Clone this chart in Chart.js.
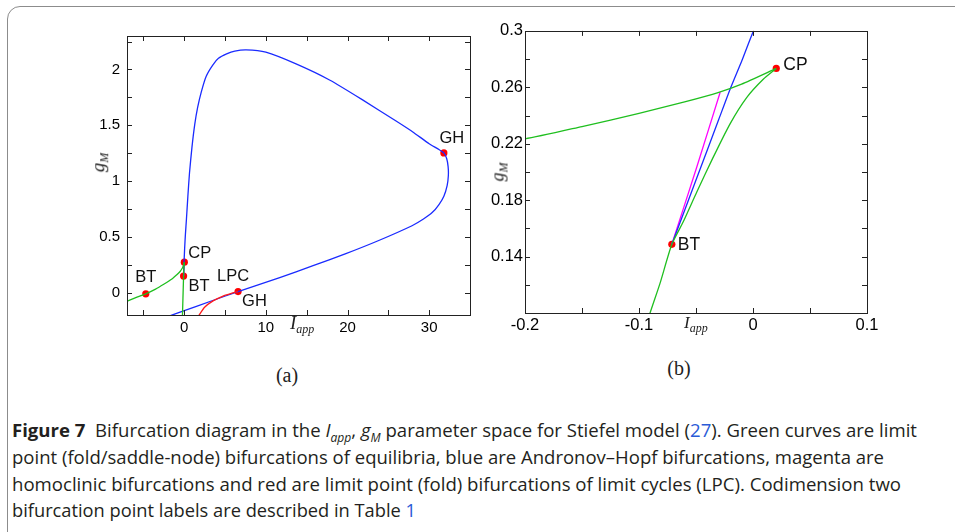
<!DOCTYPE html>
<html>
<head>
<meta charset="utf-8">
<script src="https://cdn.jsdelivr.net/npm/chart.js@4.4.1/dist/chart.umd.min.js"></script>
<style>
  body { margin:0; width:955px; height:532px; overflow:hidden; background:#fff; position:relative; font-family:"Liberation Sans", Arial, sans-serif; }
  #frame { position:absolute; left:7px; top:6px; width:1000px; height:545px; border:1.5px solid #8c8c8c; border-radius:13px; }
  .wrap { position:absolute; }
  .axt { position:absolute; font-family:"Liberation Serif","DejaVu Serif",serif; font-style:italic; font-size:19px; color:#222; white-space:nowrap; }
  .axt sub { font-size:12px; vertical-align:-4px; }
  .sub { position:absolute; font-family:"Liberation Serif","DejaVu Serif",serif; font-size:20px; color:#222; transform:translate(-50%,-50%); }
  .cap { position:absolute; left:12px; font-family:"Open Sans","Noto Sans",sans-serif; font-size:18.5px; color:#231f20; white-space:nowrap; transform-origin:0 50%; }
  .cap b { font-weight:700; }
  .cap a { color:#2a5bd7; text-decoration:none; }
  .cap i sub { font-size:12px; }
</style>
</head>
<body>
<div id="frame"></div>

<div class="wrap" style="left:70px;top:20px;width:420px;height:330px"><canvas id="chartA" width="420" height="330"></canvas></div>
<div class="wrap" style="left:470px;top:19px;width:420px;height:330px"><canvas id="chartB" width="420" height="330"></canvas></div>

<div class="axt" style="left:290px;top:312px">I<sub>app</sub></div>
<div class="axt" style="left:684px;top:313px;font-size:17px">I<sub>app</sub></div>
<div class="axt" style="left:90px;top:150px;transform:rotate(-90deg)">g<sub>M</sub></div>
<div class="axt" style="left:490px;top:160px;transform:rotate(-90deg);font-size:18px">g<sub>M</sub></div>

<div class="sub" style="left:287px;top:375px">(a)</div>
<div class="sub" style="left:679px;top:368px">(b)</div>

<div class="cap" data-w="905" style="top:417px"><b>Figure 7</b>&nbsp; Bifurcation diagram in the <i>I<sub>app</sub></i>, <i>g<sub>M</sub></i> parameter space for Stiefel model (<a>27</a>). Green curves are limit</div>
<div class="cap" data-w="872" style="top:444px">point (fold/saddle-node) bifurcations of equilibria, blue are Andronov–Hopf bifurcations, magenta are</div>
<div class="cap" data-w="889" style="top:471px">homoclinic bifurcations and red are limit point (fold) bifurcations of limit cycles (LPC). Codimension two</div>
<div class="cap" data-w="404" style="top:497px">bifurcation point labels are described in Table <a>1</a></div>

<script>
// fold (limit point of equilibria) curve, I_app / g_M, two branches meeting at the cusp CP
const foldUpI = [-7.2, -6, -4.7, -3.5, -2.5, -1.5, -0.9, -0.5, -0.2, -0.15, -0.1, -0.06, -0.03, -0.01, 0.0204];
const foldUpG = [-0.082, -0.047, -0.01, 0.032, 0.075, 0.122, 0.161, 0.19, 0.2235, 0.2322, 0.2415, 0.2497, 0.2565, 0.2623, 0.2734];
const foldLoI = [0.0204, 0.0092, -0.0054, -0.02, -0.0354, -0.0494, -0.0613, -0.0712, -0.0815, -0.0903, -0.1099, -0.149, -0.188, -0.215];
const foldLoG = [0.2734, 0.2659, 0.2529, 0.2343, 0.2096, 0.1856, 0.1645, 0.1487, 0.1212, 0.1, 0.05, -0.05, -0.15, -0.22];

// Andronov-Hopf curve
const hopfI = [-0.0712, -0.05, -0.03, -0.02, -0.0098, 0.0005, 0.06, 0.15, 0.28, 0.45, 0.65, 0.95, 1.3, 1.65, 2.1, 2.7, 3.5, 4.2, 5.2,
               6.2, 7.6, 10.0, 13.7, 17.8, 21.8, 25.9, 28, 30, 31.2, 31.8, 32.15, 32.32, 32.35, 32.2, 31.8, 31.2, 30.4, 29.3, 27.9,
               23.9, 19.8, 15.7, 11.7, 6.6, 3.5, -0.5, -1.7];
const hopfG = [0.1487, 0.1943, 0.2373, 0.2588, 0.2788, 0.3, 0.4, 0.52, 0.66, 0.86, 1.07, 1.3, 1.51, 1.66, 1.80, 1.94, 2.04, 2.10, 2.14,
               2.165, 2.176, 2.155, 2.05, 1.906, 1.73, 1.54, 1.44, 1.335, 1.283, 1.252, 1.2, 1.13, 1.05, 0.96, 0.865, 0.79, 0.72, 0.66, 0.60,
               0.47, 0.35, 0.24, 0.135, 0.01, -0.07, -0.175, -0.206];

// homoclinic curve
const homI = [-0.0712, -0.0493, -0.0288];
const homG = [0.1487, 0.2035, 0.2565];

// LPC curve
const lpcI = [6.6, 5.6, 4.76, 3.54, 2.5, 1.75];
const lpcG = [0.01, -0.01, -0.03, -0.073, -0.13, -0.21];

// codimension two points
const ptName = ['BT', 'CP', 'BT', 'GH', 'GH'];
const ptI = [-4.7, 0.0204, -0.0712, 6.6, 31.8];
const ptG = [-0.01, 0.2734, 0.1487, 0.01, 1.252];

// ticks
const aXTicks = [-5, 0, 5, 10, 15, 20, 25, 30];
const aXLabels = [0, 10, 20, 30];
const aYTicks = [0, 0.25, 0.5, 0.75, 1, 1.25, 1.5, 1.75, 2, 2.25];
const aYLabels = [0, 0.5, 1, 1.5, 2];
const bXTicks = [-0.2, -0.15, -0.1, -0.05, 0, 0.05, 0.1];
const bXLabels = [-0.2, -0.1, 0, 0.1];
const bYTicks = [0.1, 0.12, 0.14, 0.16, 0.18, 0.2, 0.22, 0.24, 0.26, 0.28, 0.3];
const bYLabels = [0.14, 0.18, 0.22, 0.26, 0.3];

const zip = (xs, ys) => xs.map((x, i) => ({x: x, y: ys[i]}));
const has = (arr, v) => arr.some(a => Math.abs(a - v) < 1e-9);

// frame + inward ticks on all four sides
const boxPlugin = {
    id: 'box',
    afterDatasetsDraw(chart) {
        const {ctx, chartArea: a, scales} = chart;
        ctx.save();
        ctx.strokeStyle = '#222';
        ctx.lineWidth = 1;
        ctx.beginPath();
        scales.x.ticks.forEach(t => {
            const px = Math.round(scales.x.getPixelForValue(t.value)) + 0.5;
            if (px <= a.left + 1 || px >= a.right - 1) return;
            ctx.moveTo(px, a.bottom); ctx.lineTo(px, a.bottom - 5);
            ctx.moveTo(px, a.top); ctx.lineTo(px, a.top + 5);
        });
        scales.y.ticks.forEach(t => {
            const py = Math.round(scales.y.getPixelForValue(t.value)) + 0.5;
            if (py <= a.top + 1 || py >= a.bottom - 1) return;
            ctx.moveTo(a.left, py); ctx.lineTo(a.left + 5, py);
            ctx.moveTo(a.right, py); ctx.lineTo(a.right - 5, py);
        });
        ctx.stroke();
        ctx.strokeRect(Math.round(a.left) + 0.5, Math.round(a.top) + 0.5, Math.round(a.right - a.left), Math.round(a.bottom - a.top));
        ctx.restore();
    }
};

// point labels (BT, CP, GH, LPC)
const labelPlugin = {
    id: 'ptlabels',
    afterDatasetsDraw(chart, args, opts) {
        const {ctx, chartArea: a, scales} = chart;
        ctx.save();
        ctx.fillStyle = '#111';
        ctx.font = opts.size + 'px "Liberation Sans", Arial, sans-serif';
        ctx.textBaseline = 'middle';
        opts.items.forEach(it => {
            const px = scales.x.getPixelForValue(ptI[it.p]);
            const py = scales.y.getPixelForValue(ptG[it.p]);
            if (px < a.left || px > a.right || py < a.top || py > a.bottom) return;
            ctx.textAlign = it.align || 'left';
            ctx.fillText(it.text || ptName[it.p], px + it.dx, py + it.dy);
        });
        ctx.restore();
    }
};

function makeChart(id, xr, yr, xt, xl, yt, yl, fontSize, fit, labels) {
    const lineSet = (data, color) => ({
        data: data, showLine: true, borderColor: color, borderWidth: 1.3,
        pointRadius: 0, tension: 0.2, fill: false
    });
    return new Chart(document.getElementById(id), {
        type: 'scatter',
        data: {
            datasets: [
                lineSet(zip(lpcI, lpcG), '#ff1a1a'),
                lineSet(zip(foldUpI, foldUpG), '#1fbf1f'),
                lineSet(zip(foldLoI, foldLoG), '#1fbf1f'),
                lineSet(zip(hopfI, hopfG), '#1a2bff'),
                lineSet(zip(homI, homG), '#ff00ff'),
                {data: zip(ptI, ptG), pointRadius: 3.6, pointBackgroundColor: '#ff0000', pointBorderWidth: 0, showLine: false}
            ]
        },
        options: {
            responsive: false,
            animation: false,
            events: [],
            layout: {padding: fit.pad},
            plugins: {legend: {display: false}, tooltip: {enabled: false}, ptlabels: labels},
            scales: {
                x: {
                    type: 'linear', min: xr[0], max: xr[1],
                    afterBuildTicks: s => { s.ticks = xt.map(v => ({value: v})); },
                    afterFit: s => { s.height = fit.xh; },
                    ticks: {callback: v => has(xl, v) ? String(+v.toFixed(3)) : '', color: '#000', padding: fit.xpad,
                            font: {size: fontSize, family: '"Liberation Sans", Arial, sans-serif'}, maxRotation: 0, autoSkip: false},
                    grid: {display: false, drawTicks: false},
                    border: {display: false}
                },
                y: {
                    type: 'linear', min: yr[0], max: yr[1],
                    afterBuildTicks: s => { s.ticks = yt.map(v => ({value: v})); },
                    afterFit: s => { s.width = fit.yw; },
                    ticks: {callback: v => has(yl, v) ? String(+v.toFixed(3)) : '', color: '#000', padding: fit.ypad,
                            font: {size: fontSize, family: '"Liberation Sans", Arial, sans-serif'}, autoSkip: false},
                    grid: {display: false, drawTicks: false},
                    border: {display: false}
                }
            }
        },
        plugins: [boxPlugin, labelPlugin]
    });
}

makeChart('chartA', [-7, 35], [-0.2, 2.3], aXTicks, aXLabels, aYTicks, aYLabels, 15,
    {pad: {top: 10, right: 20, left: 0, bottom: 0}, xh: 35, yw: 57, xpad: 4, ypad: 7},
    {size: 16.5, items: [
        {p: 0, dx: 0, dy: -16, align: 'center'},
        {p: 1, dx: 4, dy: -9},
        {p: 2, dx: 5, dy: 10},
        {p: 3, text: 'LPC', dx: -5, dy: -15, align: 'center'},
        {p: 3, dx: 4, dy: 10},
        {p: 4, dx: 8, dy: -15, align: 'center'}
    ]});

makeChart('chartB', [-0.2, 0.1], [0.1, 0.3], bXTicks, bXLabels, bYTicks, bYLabels, 16.5,
    {pad: {top: 10, right: 23, left: 0, bottom: 0}, xh: 36, yw: 55, xpad: 3, ypad: 2},
    {size: 17.5, items: [
        {p: 1, dx: 7, dy: -3},
        {p: 2, dx: 6, dy: 1}
    ]});

document.querySelectorAll('.cap').forEach(el => {
    const w = el.getBoundingClientRect().width;
    el.style.transform = 'scaleX(' + (+el.dataset.w / w) + ')';
});
</script>
</body>
</html>
